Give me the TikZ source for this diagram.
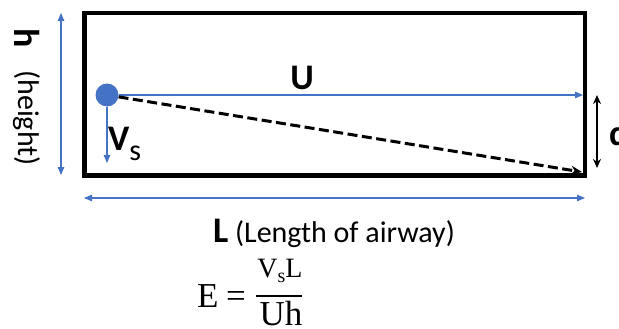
\documentclass[tikz,border=0pt]{standalone}
\usepackage{fontspec}
\setmainfont{Carlito}
\newfontfamily\eqfont{Liberation Serif}
\usepackage{tikz}
\usetikzlibrary{arrows.meta,positioning}
\definecolor{ink}{HTML}{000000}
\definecolor{flow}{HTML}{4472C4}

\begin{document}
\begin{tikzpicture}[x=1pt, y=-1pt,
  every node/.style={text=ink, inner sep=0pt},
  big/.style={font=\fontsize{36}{40}\selectfont\bfseries},
  note/.style={font=\fontsize{30}{34}\selectfont},
  eqtext/.style={font=\eqfont\fontsize{35}{40}\selectfont},
  numtext/.style={font=\eqfont\fontsize{28}{32}\selectfont},
  duct/.style={rectangle, draw=ink, line width=4.5pt, outer sep=0pt, minimum width=500.5pt, minimum height=162.5pt},
  particle/.style={circle, fill=flow, minimum size=23pt},
  flowarrow/.style={-{Triangle[length=8pt, width=6.5pt]}, draw=flow, line width=1.1pt},
  twoway/.style={{Triangle[length=8pt, width=6.5pt]}-{Triangle[length=8pt, width=6.5pt]}, draw=flow, line width=1.1pt},
  settle/.style={-{Stealth[length=11pt, width=9pt]}, draw=ink, line width=3pt, dash pattern=on 10pt off 4.5pt},
  depth/.style={{Stealth[length=9pt, width=8pt]}-{Stealth[length=9pt, width=8pt]}, draw=ink, line width=2pt},
  fracbar/.style={draw=ink, line width=1.5pt}
]
\useasboundingbox (0,0) rectangle (619,329);

\node[duct] (airway) at (334.75,94.25) {};
\node[particle] (dot) at (107,95) {};

\coordinate (uend) at (583,95);
\coordinate (vsend) at (107,163);
\coordinate (corner) at (582,172);

\draw[flowarrow] (dot.east) -- (uend);
\draw[flowarrow] (dot.south) -- (vsend);
\draw[settle] (dot) -- (corner);

\node[big] (ulabel) at (302,78) {U};
\node[big, anchor=base west] (vslabel) at (108,150) {V\raisebox{-10pt}{\fontsize{30}{34}\selectfont\mdseries s}};

% height of airway
\coordinate (htop) at (61,13);
\coordinate (hbot) at (61,175);
\draw[twoway] (htop) -- (hbot);
\node[big, rotate=-90] (hlabel) at (27,38) {h};
\node[note, rotate=-90] (heightlabel) at (27,118) {(height)};

% settling distance
\coordinate (dtop) at (597,95);
\coordinate (dbot) at (597,168);
\draw[depth] (dtop) -- (dbot);
\node[big, anchor=base west] (dlabel) at (609,145) {d};

% length of airway
\coordinate (lleft) at (84,198);
\coordinate (lright) at (585,198);
\draw[twoway] (lleft) -- (lright);
\node[note, anchor=base] (lenlabel) at (334,242) {{\fontsize{36}{40}\selectfont\bfseries L} (Length of airway)};

% efficiency
\node[eqtext, anchor=base west] (eqlhs) at (197,307) {E};
\node[eqtext, anchor=base west] (eqsign) at (226,307) {=};
\coordinate (barl) at (256,296);
\coordinate (barr) at (302,296);
\draw[fracbar] (barl) -- (barr);
\node[numtext, anchor=base] (eqnum) at (280,277) {V\raisebox{-5pt}{\fontsize{20}{23}\selectfont s}L};
\node[eqtext, anchor=base] (eqden) at (281,325) {Uh};
\end{tikzpicture}
\end{document}
